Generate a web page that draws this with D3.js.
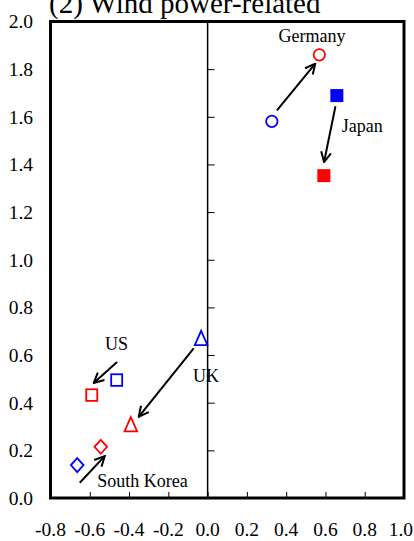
<!DOCTYPE html>
<html><head><meta charset="utf-8">
<script src="https://cdn.jsdelivr.net/npm/d3@7"></script>
<style>body{margin:0;background:#fff}svg{display:block}text{font-family:"Liberation Serif","Times New Roman",serif;fill:#000}</style>
</head><body>
<svg id="c" width="414" height="541"></svg>
<script>
const title = "(2) Wind power-related";
const xTicks = [-0.8,-0.6,-0.4,-0.2,0.0,0.2,0.4,0.6,0.8,1.0];
const yTicks = [0.0,0.2,0.4,0.6,0.8,1.0,1.2,1.4,1.6,1.8,2.0];
const countries = ["Germany","Japan","UK","US","South Korea"];
const shapes = ["circle","squareFilled","triangle","square","diamond"];
const beforeX = [0.327, 0.658, -0.033, -0.463, -0.664];
const beforeY = [1.581, 1.689, 0.671, 0.495, 0.138];
const afterX  = [0.569, 0.592, -0.391, -0.590, -0.544];
const afterY  = [1.860, 1.353, 0.309, 0.432, 0.215];
// arrows (data coords): start -> end
const arrowX1 = [0.353, 0.651, -0.071, -0.461, -0.651];
const arrowY1 = [1.627, 1.644, 0.628, 0.571, 0.064];
const arrowX2 = [0.548, 0.593, -0.351, -0.580, -0.524];
const arrowY2 = [1.823, 1.410, 0.341, 0.483, 0.176];
// label anchors (data coords)
const labelX = [0.532, 0.683, -0.074, -0.522, -0.562];
const labelY = [1.913, 1.536, 0.488, 0.621, 0.047];
const labelAnchor = ["middle","start","start","start","start"];

const svg = d3.select("#c");
const W = 414;
const L=50.5, R=404, T=21.5, B=498;
const x = d3.scaleLinear().domain([-0.8,1.0]).range([L,R]);
const y = d3.scaleLinear().domain([0,2.0]).range([B,T]);

svg.append("text").attr("x",49).attr("y",13).attr("font-size",29).text(title);

// zero vertical line
svg.append("line").attr("x1",x(0)).attr("x2",x(0)).attr("y1",T).attr("y2",B)
  .attr("stroke","#000").attr("stroke-width",1.5);

// y ticks on the zero line, pointing right
const yAx = svg.append("g").attr("transform",`translate(${x(0)},0)`)
  .call(d3.axisRight(y).tickValues(yTicks).tickSize(7).tickFormat(""));
yAx.select(".domain").remove();
yAx.selectAll(".tick line").attr("stroke","#000").attr("stroke-width",1);

// x ticks inside bottom
const xAx = svg.append("g").attr("transform",`translate(0,${B})`)
  .call(d3.axisTop(x).tickValues(xTicks).tickSize(6).tickFormat(""));
xAx.select(".domain").remove();
xAx.selectAll(".tick line").attr("stroke","#000").attr("stroke-width",1);

// tick labels
svg.append("g").selectAll("text").data(yTicks).join("text")
  .attr("x",33).attr("y",d=>y(d)).attr("dy","0.35em").attr("text-anchor","end")
  .attr("font-size",19.5).text(d=>d.toFixed(1));
svg.append("g").selectAll("text").data(xTicks).join("text")
  .attr("x",d=>x(d)).attr("y",536).attr("text-anchor","middle")
  .attr("font-size",19.5).text(d=>d.toFixed(1))
  .each(function(){
    const bb = this.getBBox();
    if (bb.x + bb.width > W - 1) {
      d3.select(this).attr("text-anchor","end").attr("x", W - 1);
    }
  });

// frame
svg.append("rect").attr("x",L).attr("y",T).attr("width",R-L).attr("height",B-T)
  .attr("fill","none").attr("stroke","#000").attr("stroke-width",3);

// arrows
svg.append("defs").append("marker").attr("id","ah").attr("viewBox","0 0 12 12")
  .attr("refX",11).attr("refY",6).attr("markerWidth",12).attr("markerHeight",12)
  .attr("markerUnits","userSpaceOnUse").attr("orient","auto")
  .append("path").attr("d","M1,1 L11,6 L1,11").attr("fill","none").attr("stroke","#000").attr("stroke-width",2);
svg.append("g").selectAll("line").data(countries).join("line")
  .attr("x1",(d,i)=>x(arrowX1[i])).attr("y1",(d,i)=>y(arrowY1[i]))
  .attr("x2",(d,i)=>x(arrowX2[i])).attr("y2",(d,i)=>y(arrowY2[i]))
  .attr("stroke","#000").attr("stroke-width",2).attr("marker-end","url(#ah)");

// markers
function drawMarker(g, shape, cx, cy, color){
  if(shape==="circle"){
    g.append("circle").attr("cx",cx).attr("cy",cy).attr("r",5.7)
      .attr("fill","none").attr("stroke",color).attr("stroke-width",1.8);
  } else if(shape==="squareFilled"){
    g.append("rect").attr("x",cx-6.5).attr("y",cy-6.5).attr("width",13).attr("height",13).attr("fill",color);
  } else if(shape==="square"){
    g.append("rect").attr("x",cx-5.5).attr("y",cy-5.8).attr("width",11).attr("height",11.6)
      .attr("fill","none").attr("stroke",color).attr("stroke-width",1.8);
  } else if(shape==="triangle"){
    g.append("path").attr("d",`M${cx},${cy-7.3} L${cx+6.3},${cy+7} L${cx-6.3},${cy+7} Z`)
      .attr("fill","none").attr("stroke",color).attr("stroke-width",1.8).attr("stroke-linejoin","miter");
  } else if(shape==="diamond"){
    g.append("path").attr("d",`M${cx},${cy-7} L${cx+6.3},${cy} L${cx},${cy+7} L${cx-6.3},${cy} Z`)
      .attr("fill","none").attr("stroke",color).attr("stroke-width",1.8);
  }
}
const mg = svg.append("g");
countries.forEach((c,i)=>{
  drawMarker(mg, shapes[i], x(beforeX[i]), y(beforeY[i]), "#0000ff");
  drawMarker(mg, shapes[i], x(afterX[i]), y(afterY[i]), "#ff0000");
});

// labels
svg.append("g").selectAll("text").data(countries).join("text")
  .attr("x",(d,i)=>x(labelX[i])).attr("y",(d,i)=>y(labelY[i]))
  .attr("text-anchor",(d,i)=>labelAnchor[i]).attr("font-size",18).text(d=>d);
</script>
</body></html>
